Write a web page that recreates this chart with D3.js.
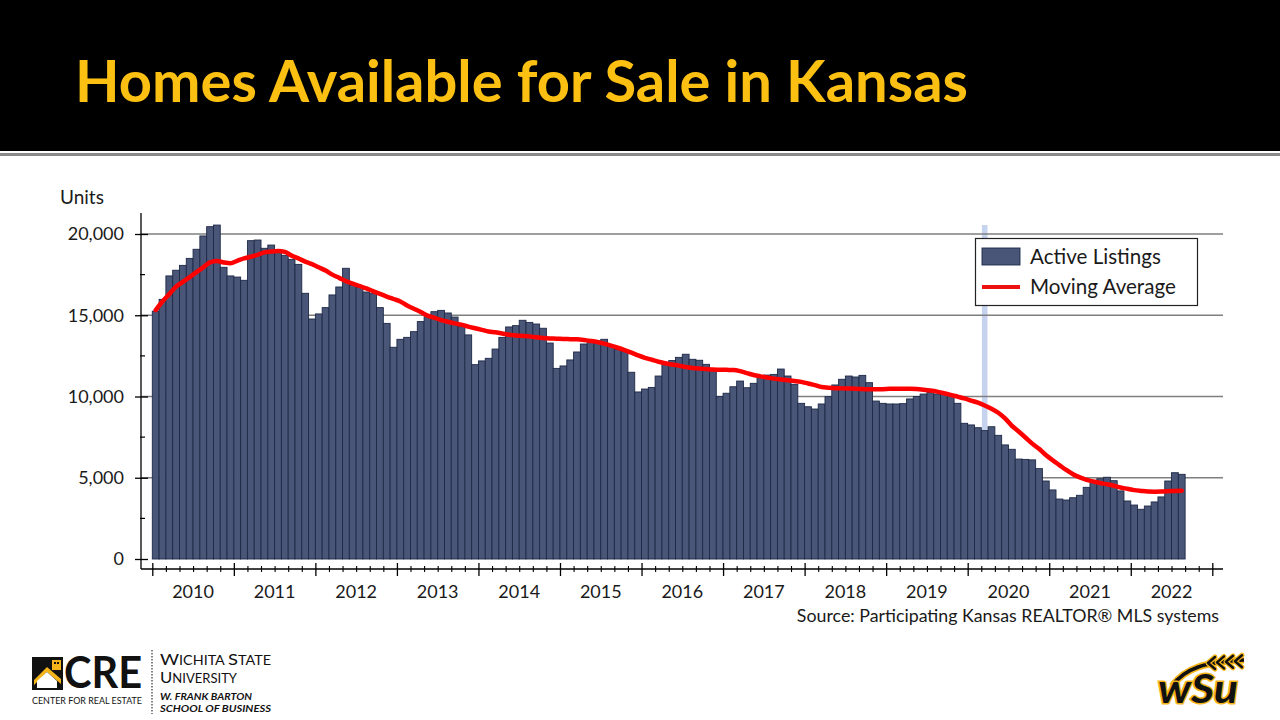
<!DOCTYPE html>
<html><head><meta charset="utf-8">
<script src="https://cdn.jsdelivr.net/npm/d3@7"></script>
<style>
body{margin:0;background:#fff;}
svg{display:block;}
text{font-family:Lato,"Open Sans",sans-serif;}
</style>
</head><body>
<svg id="chart" width="1280" height="720"></svg>
<script>
// ---- data ----
const yearLabels = ["2010","2011","2012","2013","2014","2015","2016","2017","2018","2019","2020","2021","2022"];
const yTickValues = [0, 5000, 10000, 15000, 20000];
const seriesNames = ["Active Listings", "Moving Average"];
const highlightMonth = "Mar 2020";
// monthly values, Jan 2010 .. Aug 2022
const activeListings = [
  15250,15980,17420,17770,18070,18500,19060,19880,20450,20550,17950,17420,
  17350,17150,19590,19630,19120,19320,19020,18690,18440,18130,16350,14770,
  15080,15470,16250,16740,17890,16840,16740,16430,16330,15470,14500,13030,
  13520,13640,13990,14610,14910,15220,15300,15140,14890,14300,13790,11960,
  12190,12350,12920,13640,14280,14360,14690,14560,14460,14200,13290,11730,
  11880,12250,12740,13230,13420,13420,13520,13130,12900,12760,11490,10280,
  10460,10560,11260,12020,12210,12410,12600,12290,12230,11980,11630,9990,
  10200,10600,10950,10540,10810,11160,11320,11360,11690,11260,10750,9580,
  9370,9230,9540,9990,10710,11060,11260,11200,11300,10850,9720,9580,
  9540,9540,9560,9850,10000,10150,10240,10150,10150,10090,9580,8350,
  8250,8080,7900,8140,7610,7020,6750,6150,6130,6100,5560,4800,
  4250,3690,3630,3770,3920,4410,4700,4940,5030,4820,4190,3570,
  3320,3060,3260,3510,3820,4800,5310,5210
];
const movingAverage = [
  15320,15850,16300,16760,17050,17350,17650,17950,18250,18340,18250,18200,
  18350,18500,18600,18720,18870,18920,18950,18900,18670,18500,18300,18150,
  17950,17750,17500,17300,17100,16950,16800,16650,16480,16310,16150,16000,
  15850,15600,15400,15200,14980,14850,14700,14600,14500,14420,14300,14200,
  14100,14000,13950,13880,13800,13760,13730,13700,13650,13600,13570,13560,
  13540,13530,13520,13480,13420,13350,13250,13130,13000,12860,12700,12530,
  12380,12260,12140,12050,11970,11900,11820,11760,11720,11690,11660,11650,
  11640,11630,11560,11440,11320,11240,11170,11100,11040,11000,10960,10900,
  10800,10700,10580,10540,10510,10500,10490,10480,10460,10440,10440,10450,
  10470,10480,10480,10480,10460,10420,10370,10300,10200,10100,9990,9880,
  9750,9620,9450,9250,9000,8650,8200,7850,7480,7100,6780,6400,
  6080,5780,5480,5220,5020,4870,4770,4680,4600,4510,4400,4320,
  4240,4190,4150,4140,4150,4170,4190,4205
];

// ---- drawing ----
const monthNames = ["Jan","Feb","Mar","Apr","May","Jun","Jul","Aug","Sep","Oct","Nov","Dec"];
const monthLabel = i => monthNames[i % 12] + " " + yearLabels[Math.floor(i / 12)];
const totalMonths = yearLabels.length * 12;

const svg = d3.select("#chart");
// header
svg.append("rect").attr("x",0).attr("y",0).attr("width",1280).attr("height",151).attr("fill","#000");
svg.append("rect").attr("x",0).attr("y",153).attr("width",1280).attr("height",3).attr("fill","#8a8a8a");
svg.append("text").attr("x",75).attr("y",102)
  .attr("font-size",57).attr("font-weight",700).attr("fill","#FCC012")
  .attr("textLength",893).attr("lengthAdjust","spacingAndGlyphs")
  .style("text-shadow","2px 2px 2px rgba(0,0,0,0.6)")
  .text("Homes Available for Sale in Kansas");

const x = d3.scaleLinear().domain([0,totalMonths]).range([152.3,1212.3]);
const y = d3.scaleLinear().domain([0,20000]).range([559,234]);
const axisLeftX = 141, axisBottomY = 569, plotRight = 1223;

// highlight column
const hi = activeListings.findIndex((d,i)=>monthLabel(i)===highlightMonth);
svg.append("rect").attr("x",x(hi)+0.6).attr("width",x(hi+1)-x(hi)-1.2)
  .attr("y",225).attr("height",y(0)-225).attr("fill","#c5d3ee");

// gridlines
svg.append("g").selectAll("line").data(yTickValues.filter(d=>d>0)).join("line")
  .attr("x1",axisLeftX).attr("x2",plotRight).attr("y1",d=>y(d)).attr("y2",d=>y(d))
  .attr("stroke","#7f7f7f").attr("stroke-width",1.5);

// bars
svg.append("g").selectAll("rect").data(activeListings).join("rect")
  .attr("x",(d,i)=>x(i)).attr("width",(d,i)=>x(i+1)-x(i))
  .attr("y",d=>y(d)).attr("height",d=>y(0)-y(d))
  .attr("fill","#4a5677").attr("stroke","#1e2948").attr("stroke-width",0.9);

// moving average line
svg.append("path").datum(movingAverage)
  .attr("d",d3.line().x((d,i)=>x(i+0.5)).y(d=>y(d)).curve(d3.curveMonotoneX))
  .attr("fill","none").attr("stroke","#ff0000").attr("stroke-width",4.5)
  .attr("stroke-linejoin","round").attr("stroke-linecap","round");

// y axis
svg.append("line").attr("x1",axisLeftX).attr("x2",axisLeftX).attr("y1",213).attr("y2",axisBottomY)
  .attr("stroke","#000").attr("stroke-width",1.3);
const yAxis = svg.append("g").attr("transform",`translate(${axisLeftX},0)`)
  .call(d3.axisLeft(y).tickValues(yTickValues).tickFormat(d3.format(",")).tickSize(6).tickPadding(11));
yAxis.select(".domain").remove();
yAxis.selectAll(".tick line").attr("x1",-6).attr("x2",7).attr("stroke","#000").attr("stroke-width",1.3);
yAxis.selectAll(".tick text").attr("font-size",18).attr("fill","#1a1a1a").attr("font-family","Lato");
const yMinor = d3.range(2500,20000,5000);
svg.append("g").selectAll("line").data(yMinor).join("line")
  .attr("x1",axisLeftX-1).attr("x2",axisLeftX+4).attr("y1",d=>y(d)).attr("y2",d=>y(d))
  .attr("stroke","#000").attr("stroke-width",1.2);
svg.append("text").attr("x",60).attr("y",204).attr("font-size",19).attr("fill","#1a1a1a").text("Units");

// x axis
svg.append("line").attr("x1",axisLeftX).attr("x2",plotRight).attr("y1",axisBottomY).attr("y2",axisBottomY)
  .attr("stroke","#000").attr("stroke-width",1.3);
const xAxis = svg.append("g").attr("transform",`translate(0,${axisBottomY})`)
  .call(d3.axisBottom(x).tickValues(d3.range(0,totalMonths+1,12)).tickFormat("").tickSize(7));
xAxis.select(".domain").remove();
xAxis.selectAll(".tick line").attr("y1",-6).attr("y2",7).attr("stroke","#000").attr("stroke-width",1.3);
const xMinor = svg.append("g").attr("transform",`translate(0,${axisBottomY})`)
  .call(d3.axisBottom(x).tickValues(d3.range(2,totalMonths,2).filter(m=>m%12!==0)).tickFormat("").tickSize(3));
xMinor.select(".domain").remove();
xMinor.selectAll(".tick line").attr("y1",-3).attr("y2",3).attr("stroke","#000").attr("stroke-width",1.1);
svg.append("g").selectAll("text").data(yearLabels).join("text")
  .attr("x",(d,i)=>x(i*12+6)).attr("y",598).attr("text-anchor","middle")
  .attr("font-size",18).attr("fill","#1a1a1a").text(d=>d);

// source
svg.append("text").attr("x",1219).attr("y",622).attr("text-anchor","end")
  .attr("font-size",17.8).attr("fill","#1a1a1a")
  .text("Source: Participating Kansas REALTOR\u00AE MLS systems");

// legend
const lg = svg.append("g");
lg.append("rect").attr("x",975.5).attr("y",238.5).attr("width",222).attr("height",67)
  .attr("fill","#fff").attr("stroke","#222").attr("stroke-width",1.2);
lg.append("rect").attr("x",982).attr("y",248).attr("width",38).attr("height",17)
  .attr("fill","#4a5677").attr("stroke","#1e2948").attr("stroke-width",0.9);
lg.append("line").attr("x1",982).attr("x2",1020).attr("y1",287).attr("y2",287)
  .attr("stroke","#ee1111").attr("stroke-width",4);
lg.selectAll("text.lab").data(seriesNames).join("text").attr("class","lab")
  .attr("x",1030).attr("y",(d,i)=>264+i*30).attr("font-size",20.6).attr("fill","#1a1a1a").text(d=>d);

// ---- logos (bottom) ----
const lo = svg.append("g");
lo.append("rect").attr("x",32).attr("y",657).attr("width",31).attr("height",33).attr("fill","#111");
lo.append("path").attr("d","M34,680 L47,667 L61,679 L61,684 L47,672 L34,685 Z").attr("fill","#F4B41A");
lo.append("path").attr("d","M37,688 L37,681 L47,672 L57,681 L57,688 Z").attr("fill","#fff");
lo.append("rect").attr("x",52).attr("y",660).attr("width",9).attr("height",10).attr("fill","#F4B41A");
lo.append("rect").attr("x",54).attr("y",662).attr("width",2).attr("height",2).attr("fill","#111");
lo.append("rect").attr("x",57).attr("y",662).attr("width",2).attr("height",2).attr("fill","#111");
lo.append("text").attr("x",64).attr("y",688).attr("font-family","Liberation Sans Narrow")
  .attr("font-weight",700).attr("font-size",44).attr("textLength",78).attr("lengthAdjust","spacingAndGlyphs")
  .attr("fill","#111").text("CRE");
lo.append("text").attr("x",32).attr("y",704).attr("font-family","Liberation Sans Narrow")
  .attr("font-size",9.5).attr("textLength",110).attr("lengthAdjust","spacingAndGlyphs")
  .attr("fill","#111").text("CENTER FOR REAL ESTATE");
lo.append("line").attr("x1",152).attr("x2",152).attr("y1",650).attr("y2",714)
  .attr("stroke","#333").attr("stroke-width",1.2).attr("stroke-dasharray","1.5,1.5");
const w1 = lo.append("text").attr("x",160).attr("y",665).attr("fill","#111")
  .attr("font-family","Liberation Sans")
  .attr("textLength",111).attr("lengthAdjust","spacingAndGlyphs");
w1.append("tspan").attr("font-size",16).text("W");
w1.append("tspan").attr("font-size",12.5).text("ICHITA ");
w1.append("tspan").attr("font-size",16).text("S");
w1.append("tspan").attr("font-size",12.5).text("TATE");
const w2 = lo.append("text").attr("x",160).attr("y",683).attr("fill","#111")
  .attr("font-family","Liberation Sans")
  .attr("textLength",77).attr("lengthAdjust","spacingAndGlyphs");
w2.append("tspan").attr("font-size",16).text("U");
w2.append("tspan").attr("font-size",12.5).text("NIVERSITY");
lo.append("text").attr("x",160).attr("y",700).attr("font-size",9.5).attr("font-weight",700)
  .attr("font-family","Liberation Sans")
  .attr("font-style","italic").attr("fill","#111").attr("textLength",92)
  .attr("lengthAdjust","spacingAndGlyphs").text("W. FRANK BARTON");
lo.append("text").attr("x",160).attr("y",712).attr("font-size",9.5).attr("font-weight",700)
  .attr("font-family","Liberation Sans")
  .attr("font-style","italic").attr("fill","#111").attr("textLength",111)
  .attr("lengthAdjust","spacingAndGlyphs").text("SCHOOL OF BUSINESS");

// WSU logo
const ws = svg.append("g");
ws.append("path").attr("d","M1172,686 C1185,668 1205,662 1244,660")
  .attr("fill","none").attr("stroke","#F4B41A").attr("stroke-width",7);
ws.append("path").attr("d","M1172,686 C1185,668 1205,662 1244,660")
  .attr("fill","none").attr("stroke","#111").attr("stroke-width",3.5);
[0,1,2,3].forEach(k=>{
  ws.append("path").attr("d",`M${1208+k*9},${663-k*0.6} l7,-6 M${1208+k*9},${663-k*0.6} l7,6`)
    .attr("stroke","#F4B41A").attr("stroke-width",5).attr("stroke-linecap","round");
  ws.append("path").attr("d",`M${1208+k*9},${663-k*0.6} l7,-6 M${1208+k*9},${663-k*0.6} l7,6`)
    .attr("stroke","#111").attr("stroke-width",2.5).attr("stroke-linecap","round");
});
ws.append("text").attr("x",1158).attr("y",703).attr("font-family","DejaVu Serif")
  .attr("font-size",40).attr("font-weight",700).attr("font-style","italic")
  .attr("fill","#111").attr("stroke","#F4B41A").attr("stroke-width",3)
  .attr("paint-order","stroke").attr("textLength",80).attr("lengthAdjust","spacingAndGlyphs").text("wSu");
</script>
</body></html>
